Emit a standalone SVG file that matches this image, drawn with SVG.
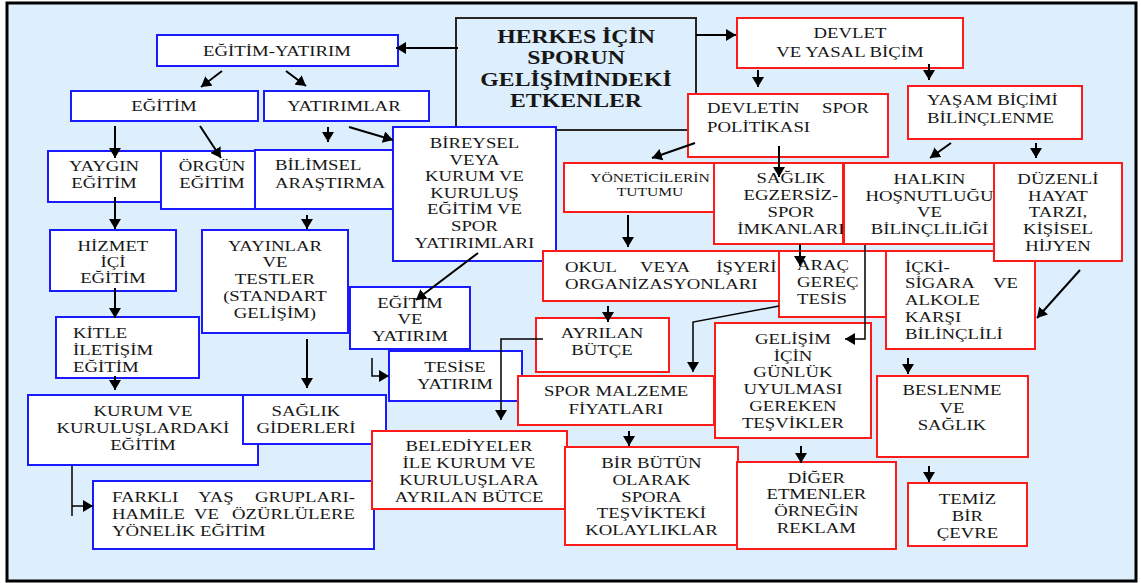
<svg xmlns="http://www.w3.org/2000/svg" width="1141" height="583" viewBox="0 0 1141 583">
<style>
text{font-family:"Liberation Serif","Times New Roman",serif;font-size:15px;fill:#161616;transform-box:fill-box;transform-origin:50% 50%;transform:scaleX(1.25)}
text.c{text-anchor:middle}
text.l{transform-origin:0% 50%}
text.t{font-weight:bold;font-size:19px}
text.s{font-size:12.5px}
.b{fill:#fff;stroke:#1a1aff;stroke-width:2}
.r{fill:#fff;stroke:#ff1a1a;stroke-width:2}
.h{fill:none;stroke:#262626;stroke-width:2}
.a{fill:none;stroke:#000;stroke-width:2;marker-end:url(#ah)}
.e{fill:none;stroke:#000;stroke-width:1.5}
.ea{fill:none;stroke:#000;stroke-width:1.5;marker-end:url(#ah)}
</style>
<defs>
<marker id="ah" markerUnits="userSpaceOnUse" viewBox="0 0 10 12" markerWidth="10" markerHeight="12" refX="10" refY="6" orient="auto"><path d="M0,0L10,6L0,12z" fill="#000"/></marker>
</defs>
<rect x="0" y="0" width="1141" height="583" fill="#fff"/>
<rect x="7" y="3" width="1129" height="578" fill="#ddeefc" stroke="#000" stroke-width="3"/>

<g id="n-herkes"><rect class="h" x="456" y="18" width="240" height="112"/>
<text class="c t"><tspan x="576" y="43">HERKES İÇİN</tspan><tspan x="576" y="64.5">SPORUN</tspan><tspan x="576" y="86">GELİŞİMİNDEKİ</tspan><tspan x="576" y="107">ETKENLER</tspan></text></g>

<g id="n-egitim-yatirim"><rect class="b" x="157" y="35" width="241" height="31"/><text class="c" x="277" y="56">EĞİTİM-YATIRIM</text></g>
<g id="n-egitim"><rect class="b" x="71" y="91" width="187" height="30"/><text class="c" x="164" y="111">EĞİTİM</text></g>
<g id="n-yatirimlar"><rect class="b" x="264" y="91" width="165" height="30"/><text class="c" x="344" y="111">YATIRIMLAR</text></g>
<g id="n-yaygin"><rect class="b" x="48" y="151" width="113" height="51"/><text class="c"><tspan x="104" y="171">YAYGIN</tspan><tspan x="104" y="188">EĞİTİM</tspan></text></g>
<g id="n-orgun"><rect class="b" x="161" y="151" width="94" height="58"/><text class="c"><tspan x="212" y="171">ÖRGÜN</tspan><tspan x="212" y="188">EĞİTİM</tspan></text></g>
<g id="n-bilimsel"><rect class="b" x="255" y="150" width="150" height="59"/><text class="l"><tspan x="275" y="170">BİLİMSEL</tspan><tspan x="275" y="188">ARAŞTIRMA</tspan></text></g>
<g id="n-bireysel"><rect class="b" x="393" y="127" width="163" height="134"/><text class="c"><tspan x="474.5" y="148">BİREYSEL</tspan><tspan x="474.5" y="165">VEYA</tspan><tspan x="474.5" y="181">KURUM VE</tspan><tspan x="474.5" y="198">KURULUŞ</tspan><tspan x="474.5" y="214">EĞİTİM VE</tspan><tspan x="474.5" y="231">SPOR</tspan><tspan x="474.5" y="248">YATIRIMLARI</tspan></text></g>
<g id="n-hizmet"><rect class="b" x="50" y="230" width="126" height="61"/><text class="c"><tspan x="113" y="251">HİZMET</tspan><tspan x="113" y="267">İÇİ</tspan><tspan x="113" y="283">EĞİTİM</tspan></text></g>
<g id="n-yayinlar"><rect class="b" x="202" y="230" width="146" height="103"/><text class="c"><tspan x="275" y="251">YAYINLAR</tspan><tspan x="275" y="267">VE</tspan><tspan x="275" y="284">TESTLER</tspan><tspan x="275" y="301">(STANDART</tspan><tspan x="275" y="318">GELİŞİM)</tspan></text></g>
<g id="n-kitle"><rect class="b" x="56" y="317" width="143" height="61"/><text class="l"><tspan x="73" y="338">KİTLE</tspan><tspan x="73" y="355">İLETİŞİM</tspan><tspan x="73" y="372">EĞİTİM</tspan></text></g>
<g id="n-egitim-ve-yatirim"><rect class="b" x="350" y="287" width="120" height="62"/><text class="c"><tspan x="410" y="308">EĞİTİM</tspan><tspan x="410" y="324">VE</tspan><tspan x="410" y="341">YATIRIM</tspan></text></g>
<g id="n-tesise"><rect class="b" x="389" y="351" width="133" height="50"/><text class="c"><tspan x="455" y="372">TESİSE</tspan><tspan x="455" y="389">YATIRIM</tspan></text></g>
<g id="n-kurum"><rect class="b" x="28" y="395" width="230" height="70"/><text class="c"><tspan x="143" y="416">KURUM VE</tspan><tspan x="143" y="433">KURULUŞLARDAKİ</tspan><tspan x="143" y="450">EĞİTİM</tspan></text></g>
<g id="n-saglik-giderleri"><rect class="b" x="243" y="395" width="143" height="49"/><text class="c"><tspan x="306" y="416">SAĞLIK</tspan><tspan x="306" y="433">GİDERLERİ</tspan></text></g>
<g id="n-farkli"><rect class="b" x="93" y="481" width="281" height="68"/><text class="l"><tspan x="112" y="502">FARKLI</tspan><tspan x="181" y="502">YAŞ</tspan><tspan x="226.4" y="502">GRUPLARI-</tspan><tspan x="112" y="519">HAMİLE</tspan><tspan x="177.6" y="519">VE</tspan><tspan x="208" y="519">ÖZÜRLÜLERE</tspan><tspan x="112" y="536">YÖNELİK EĞİTİM</tspan></text></g>
<g id="n-belediyeler"><rect class="r" x="372" y="431" width="195" height="78"/><text class="c"><tspan x="469" y="451">BELEDİYELER</tspan><tspan x="469" y="468">İLE KURUM VE</tspan><tspan x="469" y="485">KURULUŞLARA</tspan><tspan x="469" y="502">AYRILAN BÜTCE</tspan></text></g>

<g id="n-devlet"><rect class="r" x="737" y="18" width="226" height="50"/><text class="c"><tspan x="850" y="38">DEVLET</tspan><tspan x="850" y="57">VE YASAL BİÇİM</tspan></text></g>
<g id="n-devletin"><rect class="r" x="688" y="94" width="200" height="63"/><text class="l"><tspan x="707" y="113">DEVLETİN</tspan><tspan x="799" y="113">SPOR</tspan><tspan x="707" y="132">POLİTİKASI</tspan></text></g>
<g id="n-yasam"><rect class="r" x="908" y="86" width="174" height="53"/><text class="l"><tspan x="927" y="105">YAŞAM BİÇİMİ</tspan><tspan x="927" y="123">BİLİNÇLENME</tspan></text></g>
<g id="n-yoneticiler"><rect class="r" x="564" y="163" width="173" height="49"/><text class="c s"><tspan x="650" y="182">YÖNETİCİLERİN</tspan><tspan x="650" y="196">TUTUMU</tspan></text></g>
<g id="n-saglik-egzersiz"><rect class="r" x="714" y="163" width="129" height="81"/><text class="c"><tspan x="791" y="183">SAĞLIK</tspan><tspan x="791" y="200">EGZERSİZ-</tspan><tspan x="791" y="217">SPOR</tspan><tspan x="791" y="234">İMKANLARI</tspan></text></g>
<g id="n-halkin"><rect class="r" x="844" y="163" width="171" height="81"/><text class="c"><tspan x="929.5" y="184">HALKIN</tspan><tspan x="929.5" y="201">HOŞNUTLUĞU</tspan><tspan x="929.5" y="217">VE</tspan><tspan x="929.5" y="234">BİLİNÇLİLİĞİ</tspan></text></g>
<g id="n-okul"><rect class="r" x="543" y="251" width="250" height="50"/><text class="l"><tspan x="565" y="272">OKUL</tspan><tspan x="625" y="272">VEYA</tspan><tspan x="686" y="272">İŞYERİ</tspan><tspan x="565" y="289">ORGANİZASYONLARI</tspan></text></g>
<g id="n-arac"><rect class="r" x="779" y="251" width="133" height="66"/><text class="l"><tspan x="797" y="270">ARAÇ</tspan><tspan x="797" y="287">GEREÇ</tspan><tspan x="797" y="304">TESİS</tspan></text></g>
<g id="n-icki"><rect class="r" x="886" y="251" width="149" height="98"/><text class="l"><tspan x="905" y="272">İÇKİ-</tspan><tspan x="905" y="288">SİGARA</tspan><tspan x="975.4" y="288">VE</tspan><tspan x="905" y="305">ALKOLE</tspan><tspan x="905" y="322">KARŞI</tspan><tspan x="905" y="339">BİLİNÇLİLİ</tspan></text></g>
<g id="n-duzenli"><rect class="r" x="994" y="163" width="128" height="98"/><text class="c"><tspan x="1058" y="184">DÜZENLİ</tspan><tspan x="1058" y="201">HAYAT</tspan><tspan x="1058" y="217">TARZI,</tspan><tspan x="1058" y="234">KİŞİSEL</tspan><tspan x="1058" y="251">HİJYEN</tspan></text></g>
<g id="n-ayrilan"><rect class="r" x="536" y="318" width="133" height="54"/><text class="c"><tspan x="602" y="338">AYRILAN</tspan><tspan x="602" y="355">BÜTÇE</tspan></text></g>
<g id="n-spor-malzeme"><rect class="r" x="518" y="376" width="196" height="49"/><text class="c"><tspan x="616" y="396">SPOR MALZEME</tspan><tspan x="616" y="414">FİYATLARI</tspan></text></g>
<g id="n-gelisim"><rect class="r" x="715" y="323" width="156" height="115"/><text class="c"><tspan x="793" y="344">GELİŞİM</tspan><tspan x="793" y="361">İÇİN</tspan><tspan x="793" y="377">GÜNLÜK</tspan><tspan x="793" y="394">UYULMASI</tspan><tspan x="793" y="411">GEREKEN</tspan><tspan x="793" y="428">TEŞVİKLER</tspan></text></g>
<g id="n-beslenme"><rect class="r" x="877" y="376" width="151" height="81"/><text class="c"><tspan x="952" y="395">BESLENME</tspan><tspan x="952" y="413">VE</tspan><tspan x="952" y="430">SAĞLIK</tspan></text></g>
<g id="n-bir-butun"><rect class="r" x="565" y="447" width="173" height="98"/><text class="c"><tspan x="651.5" y="468">BİR BÜTÜN</tspan><tspan x="651.5" y="485">OLARAK</tspan><tspan x="651.5" y="502">SPORA</tspan><tspan x="651.5" y="518">TEŞVİKTEKİ</tspan><tspan x="651.5" y="535">KOLAYLIKLAR</tspan></text></g>
<g id="n-diger"><rect class="r" x="737" y="462" width="159" height="87"/><text class="c"><tspan x="816.5" y="483">DİĞER</tspan><tspan x="816.5" y="499">ETMENLER</tspan><tspan x="816.5" y="516">ÖRNEĞİN</tspan><tspan x="816.5" y="533">REKLAM</tspan></text></g>
<g id="n-temiz"><rect class="r" x="908" y="483" width="119" height="63"/><text class="c"><tspan x="967.5" y="504">TEMİZ</tspan><tspan x="967.5" y="521">BİR</tspan><tspan x="967.5" y="538">ÇEVRE</tspan></text></g>

<g id="connectors">
<line class="a" x1="458" y1="48" x2="396" y2="48"/>
<line class="a" x1="696" y1="35" x2="736" y2="35"/>
<line class="a" x1="222" y1="71" x2="201" y2="87"/>
<line class="a" x1="286" y1="71" x2="306" y2="86"/>
<line class="a" x1="115" y1="126" x2="115" y2="158"/>
<line class="a" x1="200" y1="126" x2="221" y2="158"/>
<line class="a" x1="328" y1="127" x2="328" y2="142"/>
<line class="a" x1="349" y1="127" x2="393" y2="140"/>
<line class="a" x1="115" y1="197" x2="115" y2="229"/>
<line class="a" x1="115" y1="288" x2="115" y2="318"/>
<line class="a" x1="115" y1="376" x2="115" y2="390"/>
<line class="a" x1="307" y1="215" x2="307" y2="229"/>
<line class="a" x1="307" y1="339" x2="307" y2="388"/>
<line class="a" x1="478" y1="253" x2="416" y2="300"/>
<polyline class="ea" points="372,358 372,376 389,376"/>
<polyline class="ea" points="543,339 501,339 501,420"/>
<line class="a" x1="628" y1="215" x2="628" y2="247"/>
<line class="a" x1="608" y1="306" x2="608" y2="322"/>
<polyline class="ea" points="779,306 693,322 693,372"/>
<line class="a" x1="779" y1="146" x2="779" y2="177"/>
<line class="a" x1="695" y1="143" x2="652" y2="158"/>
<line class="a" x1="758" y1="70" x2="758" y2="87"/>
<line class="a" x1="929" y1="64" x2="929" y2="80"/>
<line class="a" x1="951" y1="143" x2="930" y2="158"/>
<line class="a" x1="1036" y1="143" x2="1036" y2="158"/>
<line class="a" x1="800" y1="244" x2="800" y2="266"/>
<polyline class="ea" points="865,245 865,339 845,339"/>
<line class="a" x1="1080" y1="270" x2="1037" y2="318"/>
<line class="a" x1="908" y1="358" x2="908" y2="374"/>
<line class="a" x1="929" y1="466" x2="929" y2="482"/>
<line class="a" x1="801" y1="446" x2="801" y2="463"/>
<line class="a" x1="629" y1="431" x2="629" y2="446"/>
<line class="e" x1="72" y1="466" x2="72" y2="516"/>
<line class="ea" x1="72" y1="506" x2="93" y2="506"/>
</g>
</svg>
